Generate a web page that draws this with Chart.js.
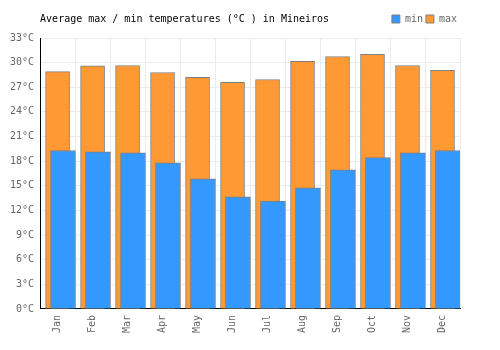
<!DOCTYPE html>
<html><head><meta charset="utf-8">
<script src="https://cdn.jsdelivr.net/npm/chart.js@4/dist/chart.umd.min.js"></script>
<style>html,body{margin:0;padding:0;background:#fff}</style>
</head><body>
<canvas id="c" width="500" height="350"></canvas>
<script>
const months = ['Jan','Feb','Mar','Apr','May','Jun','Jul','Aug','Sep','Oct','Nov','Dec'];
const minTemps = [19.3, 19.15, 19.0, 17.8, 15.85, 13.65, 13.15, 14.75, 16.95, 18.45, 19.0, 19.3];
const maxTemps = [28.9, 29.6, 29.65, 28.8, 28.2, 27.6, 27.95, 30.15, 30.75, 31.0, 29.65, 29.05];
const yTickValues = [0, 3, 6, 9, 12, 15, 18, 21, 24, 27, 30, 33];
const unit = '°C';

const FONT = "'DejaVu Sans Mono', 'Liberation Mono', monospace";
Chart.defaults.font.family = FONT;
Chart.defaults.font.size = 10;
Chart.defaults.color = '#666';

const minShift = 0.155; // blue bars sit slightly right of category centre

new Chart(document.getElementById('c'), {
  type: 'bar',
  data: {
    labels: months,
    datasets: [
      {
        label: 'min',
        data: minTemps.map((v, i) => ({x: i, y: v})),
        xAxisID: 'x2',
        grouped: false,
        backgroundColor: '#3399ff',
        borderColor: '#7f7f7f',
        borderWidth: 1,
        barThickness: 25
      },
      {
        label: 'max',
        data: maxTemps,
        xAxisID: 'x',
        grouped: false,
        backgroundColor: '#ff9933',
        borderColor: '#7f7f7f',
        borderWidth: 1,
        barThickness: 24
      }
    ]
  },
  options: {
    responsive: false,
    animation: false,
    layout: {padding: {left: 4, right: 40, top: 11, bottom: 11}},
    plugins: {
      tooltip: {enabled: false},
      legend: {
        position: 'top',
        align: 'end',
        fullSize: false,
        weight: 1000,
        labels: {boxWidth: 8, boxHeight: 8, padding: 3, color: '#666', font: {size: 10, family: FONT}}
      },
      title: {
        display: true,
        text: 'Average max / min temperatures (°C ) in Mineiros',
        align: 'start',
        position: 'top',
        fullSize: false,
        weight: 500,
        color: '#000',
        font: {size: 10, family: FONT, weight: 'normal'},
        padding: {top: -21, bottom: 13}
      }
    },
    scales: {
      x: {
        type: 'category',
        offset: true,
        grid: {color: '#ebebeb', drawTicks: false, offset: true},
        border: {color: '#000', width: 1},
        ticks: {minRotation: 90, maxRotation: 90, padding: 6, color: '#666', font: {size: 10, family: FONT}}
      },
      x2: {
        type: 'linear',
        display: false,
        offset: false,
        grid: {offset: false},
        bounds: 'data',
        min: -0.5 - minShift,
        max: 11.5 - minShift
      },
      y: {
        min: 0,
        max: 33,
        afterBuildTicks: s => { s.ticks = yTickValues.map(v => ({value: v})); },
        grid: {color: '#ebebeb', drawTicks: false},
        border: {color: '#000', width: 1},
        ticks: {padding: 6, color: '#666', font: {size: 10, family: FONT}, callback: v => v + unit}
      }
    }
  }
});
</script>
</body></html>
